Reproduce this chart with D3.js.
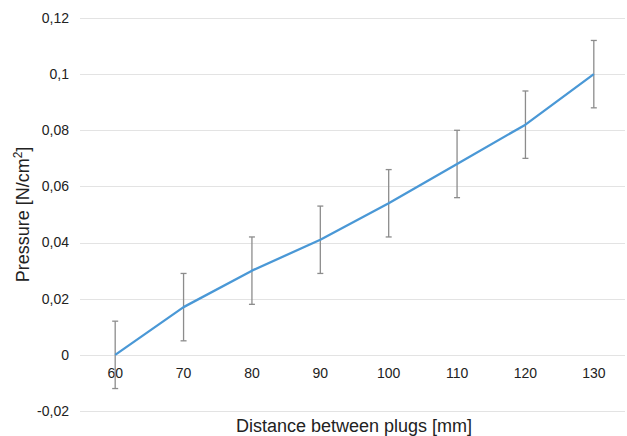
<!DOCTYPE html>
<html>
<head>
<meta charset="utf-8">
<script src="https://d3js.org/d3.v7.min.js"></script>
<style>
  body { margin:0; padding:0; background:#fff; }
  text { font-family: "Liberation Sans", Arial, sans-serif; fill:#222; }
</style>
</head>
<body>
<svg id="chart" width="627" height="436"></svg>
<script>
// data
var distances = ["60", "70", "80", "90", "100", "110", "120", "130"];
var pressure = [0, 0.017, 0.030, 0.041, 0.054, 0.068, 0.082, 0.100];
var errors = [0.012, 0.012, 0.012, 0.012, 0.012, 0.012, 0.012, 0.012];
var yTicks = [-0.02, 0, 0.02, 0.04, 0.06, 0.08, 0.1, 0.12];
var yTickLabels = ["-0,02", "0", "0,02", "0,04", "0,06", "0,08", "0,1", "0,12"];

var svg = d3.select('#chart');
// plot area (window.top is taken, so prefixed names)
var plotLeft = 81, plotRight = 628, plotTop = 18, plotBottom = 411;

var x = d3.scaleBand().domain(distances).range([plotLeft, plotRight]);
var y = d3.scaleLinear().domain([-0.02, 0.12]).range([plotBottom, plotTop]);

// gridlines
svg.append('g').selectAll('line.grid')
  .data(yTicks)
  .enter()
  .append('line')
  .attr('class', 'grid')
  .attr('x1', plotLeft - 1)
  .attr('x2', 625)
  .attr('y1', function(d) { return Math.round(y(d)) + 0.5; })
  .attr('y2', function(d) { return Math.round(y(d)) + 0.5; })
  .attr('stroke', '#e3e3e3')
  .attr('stroke-width', 1);

// y tick labels
svg.append('g').selectAll('text.ylab')
  .data(yTicks)
  .enter()
  .append('text')
  .attr('class', 'ylab')
  .attr('x', 69)
  .attr('y', function(d) { return y(d); })
  .attr('dy', '0.35em')
  .attr('text-anchor', 'end')
  .attr('font-size', 14)
  .text(function(d, i) { return yTickLabels[i]; });

// x tick labels, sitting under the zero line
svg.append('g').selectAll('text.xlab')
  .data(distances)
  .enter()
  .append('text')
  .attr('class', 'xlab')
  .attr('x', function(d) { return x(d) + x.bandwidth() / 2; })
  .attr('y', y(0) + 23)
  .attr('text-anchor', 'middle')
  .attr('font-size', 14)
  .text(function(d) { return d; });

var cx = function(i) { return x(distances[i]) + x.bandwidth() / 2; };

// error bars
var eb = svg.append('g').attr('stroke', '#8c8c8c').attr('stroke-width', 1.3);
pressure.forEach(function(v, i) {
  var xc = cx(i);
  eb.append('line').attr('x1', xc).attr('x2', xc)
    .attr('y1', y(v + errors[i])).attr('y2', y(v - errors[i]));
  eb.append('line').attr('x1', xc - 3).attr('x2', xc + 3)
    .attr('y1', y(v + errors[i])).attr('y2', y(v + errors[i]));
  eb.append('line').attr('x1', xc - 3).attr('x2', xc + 3)
    .attr('y1', y(v - errors[i])).attr('y2', y(v - errors[i]));
});

// the line
var line = d3.line()
  .x(function(d, i) { return cx(i); })
  .y(function(d) { return y(d); });

svg.append('path')
  .datum(pressure)
  .attr('d', line)
  .attr('fill', 'none')
  .attr('stroke', '#4a98d6')
  .attr('stroke-width', 2.3)
  .attr('stroke-linejoin', 'round');

// axis titles
svg.append('text')
  .attr('x', 354)
  .attr('y', 432)
  .attr('text-anchor', 'middle')
  .attr('font-size', 18)
  .text('Distance between plugs [mm]');

var yt = svg.append('text')
  .attr('transform', 'translate(29,' + ((plotTop + plotBottom) / 2) + ') rotate(-90)')
  .attr('text-anchor', 'middle')
  .attr('font-size', 18);
yt.append('tspan').text('Pressure [N/cm');
yt.append('tspan').attr('font-size', 12).attr('dy', -7).text('2');
yt.append('tspan').attr('dy', 7).text(']');
</script>
</body>
</html>
